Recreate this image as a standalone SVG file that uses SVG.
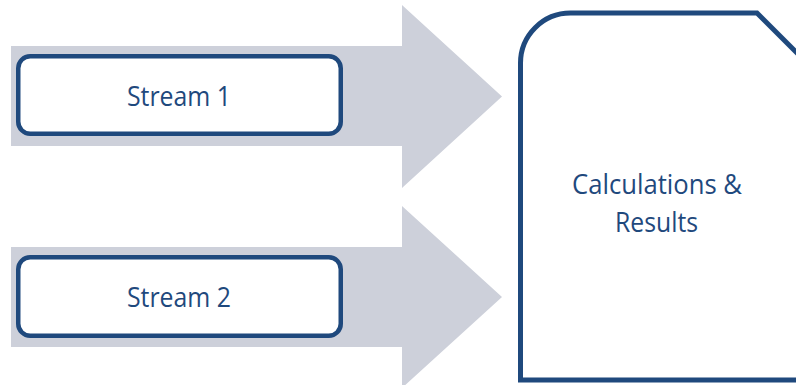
<svg xmlns="http://www.w3.org/2000/svg" width="796" height="385" viewBox="0 0 796 385">
  <style>
    .flow { fill: #CDD0DA; stroke: none; }
    .stream { fill: #FFFFFF; stroke: #1F497D; stroke-width: 4.5; }
    .doc { fill: #FFFFFF; stroke: #1F497D; stroke-width: 5; stroke-linejoin: miter; }
    .label { font-family: "Open Sans", "Liberation Sans", sans-serif; font-size: 27px; fill: #1F497D; text-anchor: middle; }
  </style>
  <rect width="796" height="385" fill="#FFFFFF"/>

  <!-- wide block arrows carrying each stream into the results -->
  <g id="connectors">
    <polygon class="flow" points="11,46 402,46 402,5 502,96.5 402,188 402,146 11,146"/>
    <polygon class="flow" points="11,247 402,247 402,206 502,297 402,388 402,347 11,347"/>
  </g>

  <g id="stream1">
    <rect class="stream" x="18.25" y="56.25" width="322.5" height="77.5" rx="12" ry="12"/>
    <text class="label" x="179" y="106" textLength="104" lengthAdjust="spacingAndGlyphs">Stream 1</text>
  </g>

  <g id="stream2">
    <rect class="stream" x="18.25" y="257.25" width="322.5" height="78.5" rx="12" ry="12"/>
    <text class="label" x="179" y="307" textLength="104" lengthAdjust="spacingAndGlyphs">Stream 2</text>
  </g>

  <g id="results">
    <path class="doc" d="M520.5,380 L520.5,63 A50,50 0 0 1 570.5,13 L757,13 L830,86 L830,380 Z"/>
    <text class="label" x="657" y="194" textLength="170" lengthAdjust="spacingAndGlyphs">Calculations &amp;</text>
    <text class="label" x="656.5" y="232" textLength="83" lengthAdjust="spacingAndGlyphs">Results</text>
  </g>
</svg>
